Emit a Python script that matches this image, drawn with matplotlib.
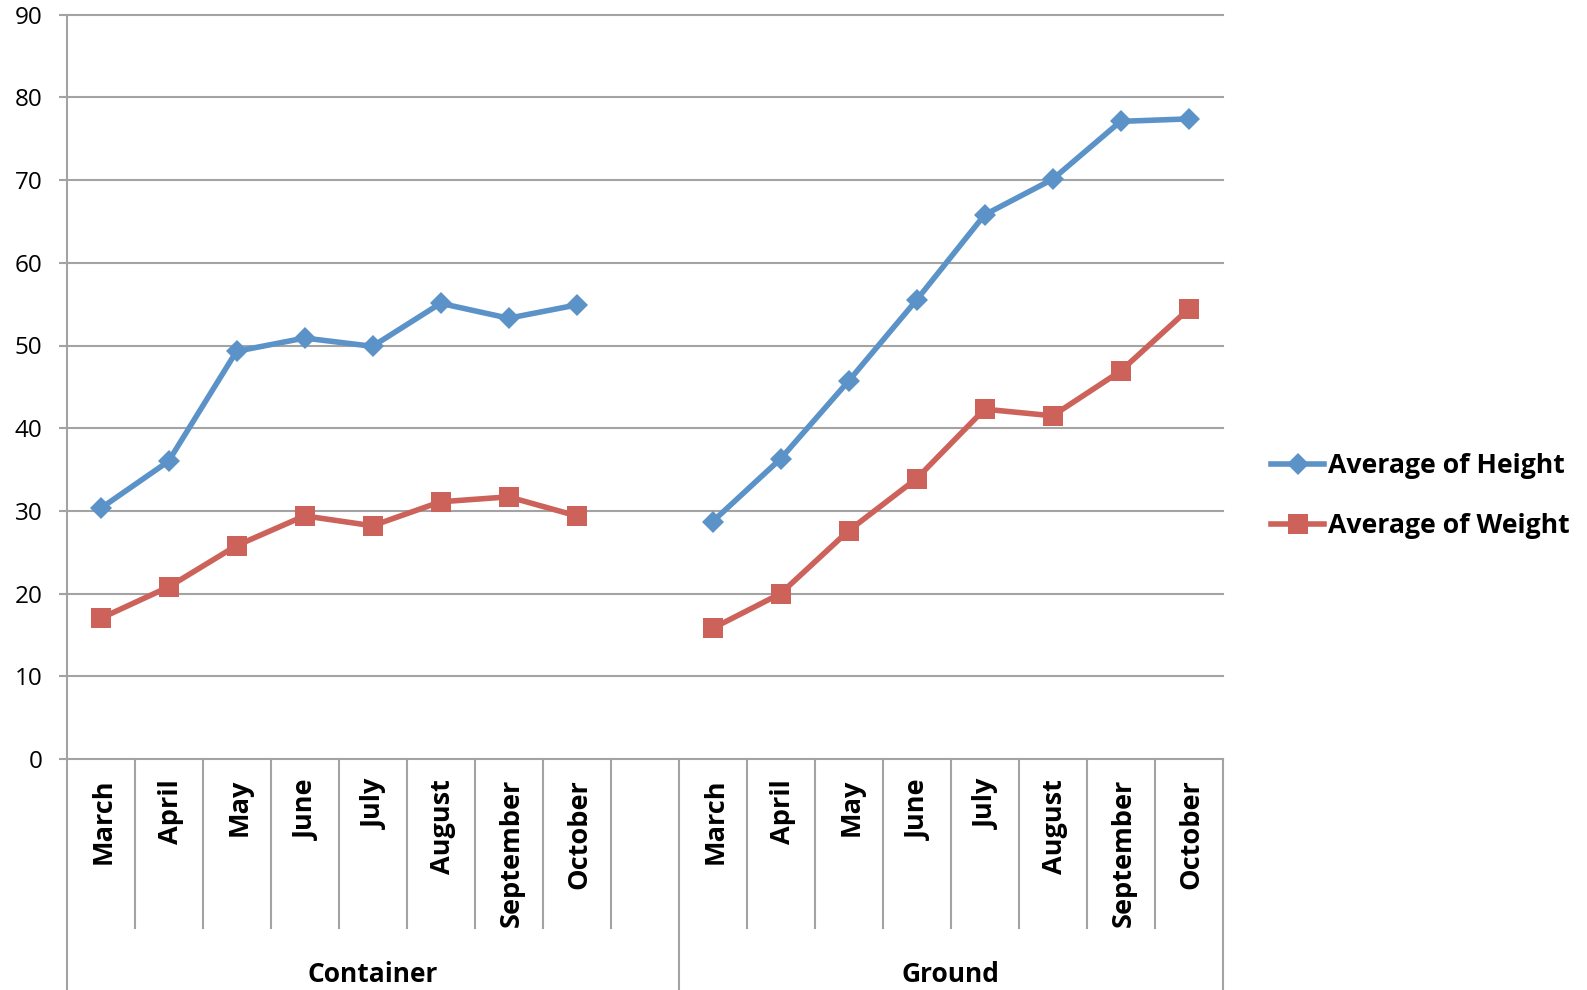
import numpy as np
import matplotlib
matplotlib.use("Agg")
import matplotlib.pyplot as plt

# ---- data -------------------------------------------------------------
months = ["March", "April", "May", "June", "July", "August", "September", "October"]
group_names = ["Container", "Ground"]
# the Container group carries one extra, unlabeled (blank) month slot
group_months = [months + [""], months]

height_container = [30.3, 36.0, 49.3, 50.9, 49.9, 55.1, 53.3, 54.9, None]
weight_container = [17.0, 20.8, 25.8, 29.4, 28.2, 31.1, 31.7, 29.4, None]
height_ground = [28.7, 36.3, 45.7, 55.5, 65.8, 70.1, 77.1, 77.4]
weight_ground = [15.8, 20.0, 27.6, 33.9, 42.3, 41.5, 46.9, 54.4]

y_ticks = [0, 10, 20, 30, 40, 50, 60, 70, 80, 90]
series_names = ["Average of Height", "Average of Weight"]

# ---- styling ----------------------------------------------------------
BLUE = "#5B93C8"
RED = "#CC625A"
GRID = "#A3A3A3"
plt.rcParams["font.family"] = ["Open Sans", "DejaVu Sans"]

W, H = 1587, 990
fig = plt.figure(figsize=(W / 100, H / 100), dpi=100)
ax_left, ax_right = 66.5 / W, 1222.6 / W
ax_top, ax_bottom = 14.7 / H, 759.0 / H
ax = fig.add_axes([ax_left, 1 - ax_bottom, ax_right - ax_left, ax_bottom - ax_top])
ax_h_px = 759.0 - 14.7

# flatten the two-level category axis
labels, heights, weights, spans = [], [], [], []
h_by_group = {"Container": height_container, "Ground": height_ground}
w_by_group = {"Container": weight_container, "Ground": weight_ground}
pos = 0
for g, ms in zip(group_names, group_months):
    start = pos
    for i, m in enumerate(ms):
        labels.append(m)
        heights.append(h_by_group[g][i])
        weights.append(w_by_group[g][i])
    pos += len(ms)
    spans.append((g, start, pos))
n = len(labels)
x = np.arange(n) + 0.5
heights = np.array([np.nan if v is None else v for v in heights], dtype=float)
weights = np.array([np.nan if v is None else v for v in weights], dtype=float)

ax.plot(x, heights, color=BLUE, lw=4.0, marker="D", ms=11.5, mew=0,
        solid_joinstyle="round", label=series_names[0], zorder=3)
ax.plot(x, weights, color=RED, lw=4.0, marker="s", ms=15, mew=0,
        solid_joinstyle="round", label=series_names[1], zorder=3)

ax.set_xlim(0, n)
ax.set_ylim(0, 90)
ax.set_yticks(y_ticks)
ax.yaxis.grid(True, color=GRID, lw=1.5)
for gl in ax.get_ygridlines():
    gl.set_clip_on(False)
ax.set_axisbelow(True)
ax.set_xticks([])
for s in ("top", "right", "bottom"):
    ax.spines[s].set_visible(False)
ax.spines["left"].set_color(GRID)
ax.spines["left"].set_linewidth(1.5)
ax.tick_params(axis="y", length=5.8, width=1.5, color=GRID, pad=11.5,
               labelsize=17.5, labelcolor="black")

# ---- two-level category axis below the plot ----------------------------
trans = ax.get_xaxis_transform()
month_sep_bottom = -(928 - 759) / ax_h_px
group_sep_bottom = -(1000 - 759) / ax_h_px
group_edges = {s for _, a, b in spans for s in (a, b)}
for b in range(n + 1):
    yb = group_sep_bottom if b in group_edges else month_sep_bottom
    ax.plot([b, b], [0, yb], transform=trans, color=GRID, lw=1.5,
            clip_on=False, zorder=1)

month_label_y = -(779 - 759) / ax_h_px
for xi, lab in zip(x, labels):
    if lab:
        ax.text(xi + 0.04, month_label_y, lab, transform=trans, rotation=90,
                ha="center", va="top", fontsize=19.5, fontweight="bold")

group_label_y = -(974 - 759) / ax_h_px
for g, a, b in spans:
    ax.text((a + b) / 2, group_label_y, g, transform=trans, ha="center",
            va="center", fontsize=19, fontweight="bold")

# ---- legend -----------------------------------------------------------
handles, leg_labels = ax.get_legend_handles_labels()
fig.legend(handles, leg_labels, loc="center left",
           bbox_to_anchor=(1271 / W, 1 - 496 / H), frameon=False,
           prop={"weight": "bold", "size": 19.2}, handlelength=2.0,
           handletextpad=0.15, labelspacing=1.28, borderpad=0,
           borderaxespad=0)

fig.savefig("out.png", dpi=100)
